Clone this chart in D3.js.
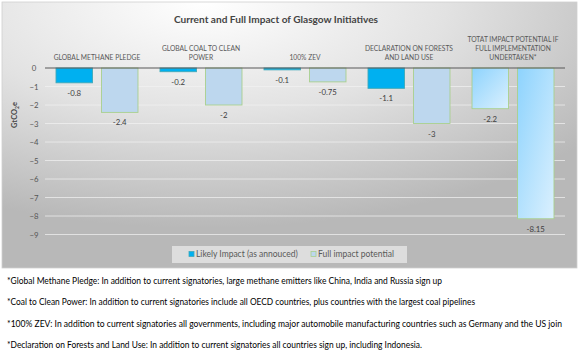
<!DOCTYPE html>
<html><head><meta charset="utf-8">
<script src="https://cdn.jsdelivr.net/npm/d3@7"></script>
<style>body{margin:0;background:#fff}svg{display:block}</style>
</head><body>
<script>
const categories = [
  ["GLOBAL METHANE PLEDGE"],
  ["GLOBAL COAL TO CLEAN", "POWER"],
  ["100% ZEV"],
  ["DECLARATION ON FORESTS", "AND LAND USE"],
  ["TOTAT IMPACT POTENTIAL IF", "FULL IMPLEMENTATION", "UNDERTAKEN*"]
];
const seriesNames = ["Likely Impact (as annouced)", "Full impact potential"];
const likelyImpact = [-0.8, -0.2, -0.1, -1.1, -2.2];
const fullImpact = [-2.4, -2, -0.75, -3, -8.15];
const yTicks = [0, -1, -2, -3, -4, -5, -6, -7, -8, -9];
const title = "Current and Full Impact of Glasgow Initiatives";
const footnotes = [
  "*Global Methane Pledge: In addition to current signatories, large methane emitters like China, India and Russia sign up",
  "*Coal to Clean Power: In addition to current signatories include all OECD countries, plus countries with the largest coal pipelines",
  "*100% ZEV: In addition to current signatories all governments, including major automobile manufacturing countries such as Germany and the US join",
  "*Declaration on Forests and Land Use: In addition to current signatories all countries sign up, including Indonesia."
];
const footnoteWidths = [435, 468, 555, 415];

const W = 580, H = 356;
const FONT = "Lato, 'Open Sans', sans-serif";
const svg = d3.select("body").append("svg").attr("width", W).attr("height", H);
const defs = svg.append("defs");
const bg = defs.append("radialGradient").attr("id", "bg")
  .attr("cx", 0.35).attr("cy", 0.0).attr("r", 0.85).attr("fx", 0.35).attr("fy", 0.0);
bg.append("stop").attr("offset", "0").attr("stop-color", "#ffffff");
bg.append("stop").attr("offset", "0.5").attr("stop-color", "#e2e2e2");
bg.append("stop").attr("offset", "1").attr("stop-color", "#b8b8b8");
const tg = defs.append("linearGradient").attr("id", "tot")
  .attr("x1", 0).attr("y1", 0).attr("x2", 1).attr("y2", 1);
tg.append("stop").attr("offset", "0").attr("stop-color", "#8dd3fd");
tg.append("stop").attr("offset", "1").attr("stop-color", "#dbf0fe");

svg.append("rect").attr("x", 2).attr("y", 2).attr("width", 575).attr("height", 266)
  .attr("fill", "url(#bg)").attr("stroke", "#d0d0d0").attr("stroke-width", 0.8);

svg.append("text").attr("x", 276).attr("y", 23).attr("text-anchor", "middle")
  .attr("font-family", FONT).attr("font-weight", "bold").attr("font-size", 10.1)
  .attr("fill", "#444").text(title);

const x0 = d3.scaleBand().domain(d3.range(categories.length)).range([45, 565]).padding(0);
const x1 = d3.scaleBand().domain([0, 1]).range([0, x0.bandwidth()]).paddingInner(0.198).paddingOuter(0.242);
const y = d3.scaleLinear().domain([-9, 0]).range([234.5, 68]);

// gridlines
svg.append("g").selectAll("line").data(yTicks.filter(d => d !== 0)).join("line")
  .attr("x1", 45).attr("x2", 565).attr("y1", d => y(d)).attr("y2", d => y(d))
  .attr("stroke", "#f2f2f2").attr("stroke-width", 0.7);

// y axis labels
const yAxis = d3.axisLeft(y).tickValues(yTicks).tickSize(0).tickPadding(0).tickFormat(d3.format("d"));
const ga = svg.append("g").attr("transform", "translate(34,0)").call(yAxis);
ga.select(".domain").remove();
ga.selectAll("text").attr("font-family", FONT).attr("font-size", 7.8).attr("fill", "#555").attr("text-anchor", "middle");

// y title
const yt = svg.append("text").attr("transform", "translate(17,115) rotate(-90)")
  .attr("text-anchor", "middle").attr("font-family", FONT).attr("font-weight", "bold")
  .attr("font-size", 7.5).attr("fill", "#444");
yt.append("tspan").text("GtCO");
yt.append("tspan").attr("font-size", 5).attr("dy", 1.5).text("2");
yt.append("tspan").attr("dy", -1.5).text("e");

// bars
const data = [];
categories.forEach((c, i) => {
  data.push({ i, s: 0, v: likelyImpact[i] });
  data.push({ i, s: 1, v: fullImpact[i] });
});
const last = categories.length - 1;
svg.append("g").selectAll("rect").data(data).join("rect")
  .attr("x", d => x0(d.i) + x1(d.s))
  .attr("width", x1.bandwidth())
  .attr("y", y(0))
  .attr("height", d => y(d.v) - y(0))
  .attr("fill", d => d.i === last ? "url(#tot)" : (d.s === 0 ? "#00b0f0" : "#bdd7ee"))
  .attr("stroke", d => (d.s === 0 && d.i !== last) ? "#41a9b8" : "#a9d08e")
  .attr("stroke-width", 0.9);

// data labels
svg.append("g").selectAll("text").data(data).join("text")
  .attr("x", d => x0(d.i) + x1(d.s) + x1.bandwidth() / 2)
  .attr("y", d => y(d.v) + 13)
  .attr("text-anchor", "middle").attr("font-family", FONT).attr("font-size", 7.8)
  .attr("fill", "#404040").text(d => d.v);

// zero axis line
svg.append("line").attr("x1", 45).attr("x2", 565).attr("y1", y(0)).attr("y2", y(0))
  .attr("stroke", "#595959").attr("stroke-width", 1.2);

// category labels
const cl = svg.append("g").selectAll("text").data(categories).join("text")
  .attr("text-anchor", "middle").attr("font-family", FONT).attr("font-size", 6.7)
  .attr("fill", "#595959");
cl.each(function (lines, i) {
  const t = d3.select(this);
  lines.forEach((ln, k) => {
    t.append("tspan").attr("x", x0(i) + x0.bandwidth() / 2)
      .attr("y", 59.5 - (lines.length - 1 - k) * 9).text(ln);
  });
});

// legend
svg.append("rect").attr("x", 172).attr("y", 246).attr("width", 235).attr("height", 17)
  .attr("fill", "#e6e6e6").attr("opacity", 0.8);
const lg = svg.append("g").selectAll("g").data(seriesNames).join("g")
  .attr("transform", (d, i) => `translate(${i === 0 ? 189 : 311},251.5)`);
lg.append("rect").attr("width", 5).attr("height", 5)
  .attr("fill", (d, i) => i === 0 ? "#00b0f0" : "#bdd7ee")
  .attr("stroke", (d, i) => i === 0 ? "#41a9b8" : "#a9d08e").attr("stroke-width", 0.8);
lg.append("text").attr("x", 7).attr("y", 5.5).attr("font-family", FONT).attr("font-size", 8.5)
  .attr("fill", "#595959").text(d => d);

// footnotes
svg.append("g").selectAll("text").data(footnotes).join("text")
  .attr("x", 7).attr("y", (d, i) => 284 + i * 21.3)
  .attr("textLength", (d, i) => footnoteWidths[i]).attr("lengthAdjust", "spacingAndGlyphs")
  .attr("font-family", FONT).attr("font-size", 8.5).attr("fill", "#000").text(d => d);
</script>
</body></html>
